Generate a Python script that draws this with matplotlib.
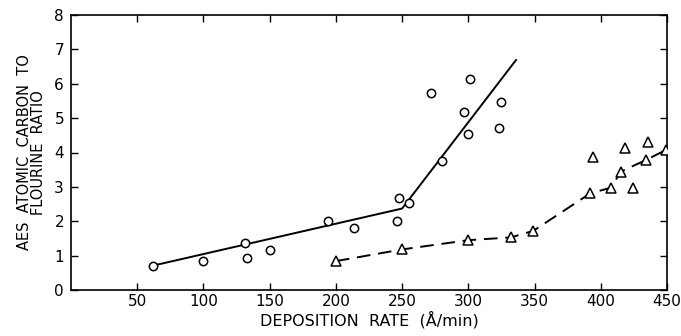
import matplotlib
matplotlib.use("Agg")
import matplotlib.pyplot as plt

# Circles (series 1)
circ_x = [62, 100, 131, 133, 150, 194, 214, 246, 248, 255, 272, 280, 297, 300, 301, 323, 325]
circ_y = [0.71, 0.85, 1.38, 0.92, 1.16, 2.01, 1.80, 2.01, 2.69, 2.54, 5.73, 3.75, 5.18, 4.55, 6.15, 4.70, 5.47]
# Solid fit line vertices
fit1_x = [62, 250, 336]
fit1_y = [0.71, 2.37, 6.69]

# Triangles (series 2)
tri_x = [200, 250, 300, 332, 349, 392, 394, 408, 415, 418, 424, 434, 436, 449]
tri_y = [0.84, 1.18, 1.45, 1.53, 1.72, 2.81, 3.86, 2.98, 3.44, 4.12, 2.96, 3.78, 4.31, 4.07]
# Dashed fit line vertices
fit2_x = [200, 250, 300, 332, 349, 392, 408, 415, 434, 449]
fit2_y = [0.84, 1.18, 1.45, 1.53, 1.72, 2.81, 2.98, 3.44, 3.78, 4.07]

x_ticks = [50, 100, 150, 200, 250, 300, 350, 400, 450]
y_ticks = [0, 1, 2, 3, 4, 5, 6, 7, 8]

fig = plt.figure(figsize=(6.81, 3.36), dpi=100)
ax = fig.add_axes([71/681, 46/336, 596/681, 275/336])

ax.plot(fit1_x, fit1_y, color="black", lw=1.4, zorder=2)
ax.plot(fit2_x, fit2_y, color="black", lw=1.4, dashes=(7, 4), zorder=2)
ax.plot(circ_x, circ_y, linestyle="none", marker="o", ms=6, mfc="white",
        mec="black", mew=1.1, zorder=3)
ax.plot(tri_x, tri_y, linestyle="none", marker="^", ms=7.5, mfc="white",
        mec="black", mew=1.1, zorder=3)

ax.set_xlim(0, 450)
ax.set_ylim(0, 8)
ax.set_xticks(x_ticks)
ax.set_yticks(y_ticks)
ax.tick_params(direction="in", length=5, width=1, top=True, right=True,
               labelsize=11)
ax.tick_params(axis="x", pad=3)
ax.tick_params(axis="y", pad=5)
for s in ax.spines.values():
    s.set_linewidth(1.2)

ax.set_xlabel("DEPOSITION  RATE  (Å/min)", fontsize=11.5, labelpad=1)
ax.set_ylabel("AES  ATOMIC  CARBON  TO\nFLOURINE  RATIO", fontsize=10.5,
              labelpad=6, linespacing=0.9)

fig.savefig("out.png", dpi=100)
